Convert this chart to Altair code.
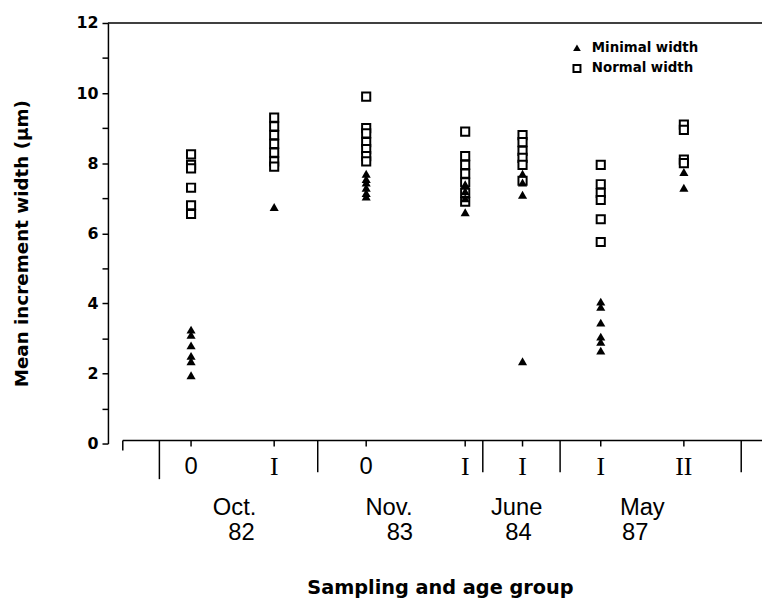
import altair as alt
import pandas as pd

# ---- data ----
group_labels = ["0", "I", "0", "I", "I", "I", "II"]
group_pos = [1.0, 2.0, 3.107, 4.298, 4.988, 5.929, 6.929]
normal_width = [
    [8.25, 7.95, 7.85, 7.3, 6.8, 6.55],
    [9.3, 9.05, 8.8, 8.55, 8.3, 8.05, 7.9],
    [9.9, 9.0, 8.85, 8.6, 8.4, 8.2, 8.05],
    [8.9, 8.2, 7.95, 7.7, 7.45, 7.15, 6.9],
    [8.8, 8.6, 8.35, 8.15, 7.95, 7.5],
    [7.95, 7.4, 7.15, 6.95, 6.4, 5.75],
    [9.1, 8.95, 8.1, 8.0],
]
minimal_width = [
    [3.25, 3.1, 2.8, 2.5, 2.35, 1.95],
    [6.75],
    [7.7, 7.55, 7.45, 7.3, 7.15, 7.05],
    [7.4, 7.2, 7.0, 6.6],
    [7.7, 7.45, 7.1, 2.35],
    [4.05, 3.9, 3.45, 3.05, 2.9, 2.65],
    [7.75, 7.3],
]
first_separator_pos = [0.619]
separator_pos = [2.524, 4.51, 5.44, 7.619]
date_month = ["Oct.", "Nov.", "June", "May"]
date_month_pos = [1.524, 3.381, 4.917, 6.429]
date_year = ["82", "83", "84", "87"]
date_year_pos = [1.607, 3.512, 4.940, 6.345]
y_ticks = list(range(0, 13))

W, H = 654, 425
BOLD = "DejaVu Sans"

rows = []
for i, p in enumerate(group_pos):
    for v in normal_width[i]:
        rows.append({"pos": p, "value": v, "series": "Normal width"})
    for v in minimal_width[i]:
        rows.append({"pos": p, "value": v, "series": "Minimal width"})
df = pd.DataFrame(rows)

xscale = alt.Scale(domain=[0, W / 84.0], nice=False, zero=False)
yscale = alt.Scale(domain=[0, 12], nice=False)


def xq():
    return alt.X("pos:Q", scale=xscale, axis=None)


yaxis = alt.Axis(values=y_ticks, labelExpr="datum.value % 2 == 0 ? datum.label : ''",
                 title=None, grid=False, domainColor="black", domainWidth=1.5,
                 tickColor="black", tickWidth=1.5, tickSize=6, labelPadding=4,
                 labelFont=BOLD, labelFontWeight="bold", labelFontSize=16,
                 labelColor="black")

squares = alt.Chart(df).transform_filter(alt.datum.series == "Normal width").mark_point(
    shape="square", filled=True, fill="white", stroke="black", strokeWidth=2, size=68, opacity=1
).encode(x=xq(), y=alt.Y("value:Q", scale=yscale, axis=yaxis))

triangles = alt.Chart(df).transform_filter(alt.datum.series == "Minimal width").mark_point(
    shape="triangle-up", filled=True, color="black", size=85, opacity=1
).encode(x=xq(), y=alt.Y("value:Q", scale=yscale, axis=yaxis))

one = pd.DataFrame({"a": [0]})
top_line = alt.Chart(one).mark_rule(color="black", strokeWidth=1.5).encode(
    x=alt.value(0), x2=alt.value(W + 8), y=alt.value(0)
)
bottom_line = alt.Chart(one).mark_rule(color="black", strokeWidth=1.5).encode(
    x=alt.value(15), x2=alt.value(W + 8), y=alt.value(H - 3)
)
start_tick = alt.Chart(one).mark_rule(color="black", strokeWidth=1.5).encode(
    x=alt.value(15), y=alt.value(H - 3), y2=alt.value(H + 7)
)

first_sep = alt.Chart(pd.DataFrame({"pos": first_separator_pos})).mark_rule(
    color="black", strokeWidth=1.5
).encode(x=xq(), y=alt.value(H - 3), y2=alt.value(H + 36))
separators = alt.Chart(pd.DataFrame({"pos": separator_pos})).mark_rule(
    color="black", strokeWidth=1.5
).encode(x=xq(), y=alt.value(H - 3), y2=alt.value(H + 29))

grp_df = pd.DataFrame({"pos": group_pos, "label": group_labels})
grp_ticks = alt.Chart(grp_df).mark_rule(color="black", strokeWidth=1.5).encode(
    x=xq(), y=alt.value(H - 3), y2=alt.value(H + 3)
)
grp_text_zero = alt.Chart(grp_df).transform_filter(alt.datum.label == "0").mark_text(
    font="Liberation Sans", fontSize=24,
    color="black", baseline="middle", align="center"
).encode(x=xq(), y=alt.value(H + 24), text="label:N")
grp_text_roman = alt.Chart(grp_df).transform_filter(alt.datum.label != "0").mark_text(
    font="Liberation Serif", fontSize=26, color="black", baseline="middle", align="center"
).encode(x=xq(), y=alt.value(H + 24), text="label:N")

month_df = pd.DataFrame({"pos": date_month_pos, "label": date_month})
month_text = alt.Chart(month_df).mark_text(
    font="Liberation Sans", fontSize=24, color="black", baseline="middle", align="center"
).encode(x=xq(), y=alt.value(H + 65), text="label:N")
year_df = pd.DataFrame({"pos": date_year_pos, "label": date_year})
year_text = alt.Chart(year_df).mark_text(
    font="Liberation Sans", fontSize=24, color="black", baseline="middle", align="center"
).encode(x=xq(), y=alt.value(H + 90), text="label:N")

x_title = alt.Chart(one).mark_text(
    text="Sampling and age group",
    font=BOLD, fontSize=19.5, fontWeight="bold", color="black", align="center", baseline="middle"
).encode(x=alt.value(336), y=alt.value(571))
y_title = alt.Chart(one).mark_text(
    text="Mean increment width (μm)",
    font=BOLD, fontSize=18.5, fontWeight="bold", color="black", align="center",
    baseline="middle", angle=270
).encode(x=alt.value(-87), y=alt.value(223))

# legend
leg_tri = alt.Chart(one).mark_point(
    shape="triangle-up", filled=True, color="black", size=60, opacity=1
).encode(x=alt.value(474), y=alt.value(25))
leg_sq = alt.Chart(one).mark_point(
    shape="square", filled=True, fill="white", stroke="black", strokeWidth=2, size=50, opacity=1
).encode(x=alt.value(474), y=alt.value(46))
leg_text1 = alt.Chart(one).mark_text(
    text="Minimal width",
    font=BOLD, fontSize=13.5, fontWeight="bold", color="black", align="left", baseline="middle"
).encode(x=alt.value(489), y=alt.value(25))
leg_text2 = alt.Chart(one).mark_text(
    text="Normal width",
    font=BOLD, fontSize=13.5, fontWeight="bold", color="black", align="left", baseline="middle"
).encode(x=alt.value(489), y=alt.value(46))

chart = alt.layer(
    top_line, bottom_line, start_tick, first_sep, separators, grp_ticks,
    squares, triangles,
    grp_text_zero, grp_text_roman, month_text, year_text,
    x_title, y_title, leg_tri, leg_sq, leg_text1, leg_text2,
).properties(
    width=W, height=H,
    background="white",
    autosize=alt.AutoSizeParams(type="none"),
    padding={"left": 101, "top": 12, "right": 7, "bottom": 158},
).configure_view(stroke=None)

chart.save("out.html", embed_options={"renderer": "svg", "actions": False})
